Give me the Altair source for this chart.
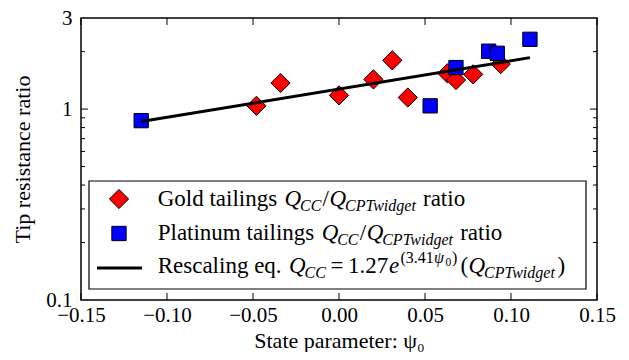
import altair as alt
import pandas as pd

# ---------------- data ----------------
gold_psi = [-0.048, -0.034, 0.000, 0.020, 0.031, 0.040, 0.063, 0.068, 0.078, 0.094]
gold_ratio = [1.04, 1.37, 1.18, 1.43, 1.80, 1.15, 1.54, 1.42, 1.52, 1.72]

plat_psi = [-0.115, 0.053, 0.068, 0.087, 0.092, 0.111]
plat_ratio = [0.87, 1.04, 1.65, 2.01, 1.96, 2.32]

fit_psi = [-0.115, 0.111]
fit_ratio = [0.86, 1.86]

x_ticks = [-0.15, -0.10, -0.05, 0.00, 0.05, 0.10, 0.15]
y_labels = [0.1, 1, 3]
y_major = [1]
y_minor = [0.2, 0.3, 0.4, 0.5, 0.6, 0.7, 0.8, 0.9, 2]

FONT = "Liberation Serif, serif"
W, H = 516, 282

gold = pd.DataFrame({"psi": gold_psi, "ratio": gold_ratio})
plat = pd.DataFrame({"psi": plat_psi, "ratio": plat_ratio})
fit = pd.DataFrame({"psi": fit_psi, "ratio": fit_ratio})

xs = alt.Scale(domain=[-0.15, 0.15], nice=False, zero=False)
ys = alt.Scale(type="log", domain=[0.1, 3], nice=False)

xaxis = alt.Axis(values=x_ticks, format=".2f", ticks=False, tickSize=0, domain=False,
                 grid=False, labelFont=FONT, labelFontSize=21, labelColor="black",
                 labelPadding=15, labelBaseline="middle", labelFlush=False, labelOverlap=False,
                 title="State parameter: ψ₀", titleFont=FONT, titleFontSize=22,
                 titleFontWeight="normal", titleColor="black", titleBaseline="alphabetic",
                 titleY=47, titleX=W / 2)
yaxis = alt.Axis(values=y_labels, format="~g", ticks=False, tickSize=0, domain=False,
                 grid=False, labelFont=FONT, labelFontSize=21, labelColor="black",
                 labelPadding=9, labelFlush=False, labelOverlap=False,
                 title="Tip resistance ratio", titleFont=FONT, titleFontSize=22,
                 titleFontWeight="normal", titleColor="black", titleBaseline="alphabetic",
                 titleX=-52, titleY=H / 2)

X = lambda f: alt.X(f, scale=xs, axis=xaxis)
Y = lambda f: alt.Y(f, scale=ys, axis=yaxis)

gold_layer = alt.Chart(gold).mark_point(shape="diamond", filled=True, fill="#ff0000",
                                         stroke="black", strokeWidth=1, size=370, opacity=1).encode(
    x=X("psi:Q"), y=Y("ratio:Q"))
plat_layer = alt.Chart(plat).mark_point(shape="square", filled=True, fill="#0000ff",
                                         stroke="black", strokeWidth=1, size=205, opacity=1).encode(
    x=X("psi:Q"), y=Y("ratio:Q"))
fit_layer = alt.Chart(fit).mark_line(color="black", strokeWidth=3).encode(
    x=X("psi:Q"), y=Y("ratio:Q"))

# inward tick marks (matplotlib classic style)
xt = pd.DataFrame({"psi": x_ticks})
xt_bottom = alt.Chart(xt).mark_rule(color="black", strokeWidth=1).encode(
    x=X("psi:Q"), y=alt.value(H), y2=alt.value(H - 7))
xt_top = alt.Chart(xt).mark_rule(color="black", strokeWidth=1).encode(
    x=X("psi:Q"), y=alt.value(0), y2=alt.value(7))

ymj = pd.DataFrame({"ratio": y_major})
ymn = pd.DataFrame({"ratio": y_minor})
def ytick(df, x0, x1):
    return alt.Chart(df).mark_rule(color="black", strokeWidth=1).encode(
        y=Y("ratio:Q"), x=alt.value(x0), x2=alt.value(x1))
ytick_layers = [ytick(ymj, 0, 7), ytick(ymj, W, W - 7), ytick(ymn, 0, 4), ytick(ymn, W, W - 4)]

# ---------------- legend (drawn by hand, matplotlib style) ----------------
one = pd.DataFrame({"a": [0]})
legend_box = alt.Chart(one).mark_rect(fill="white", stroke="black", strokeWidth=1.2).encode(
    x=alt.value(8), x2=alt.value(505), y=alt.value(163), y2=alt.value(271))
leg_diamond = alt.Chart(one).mark_point(shape="diamond", filled=True, fill="#ff0000", stroke="black",
                                        strokeWidth=1, size=370, opacity=1).encode(
    x=alt.value(38), y=alt.value(181))
leg_square = alt.Chart(one).mark_point(shape="square", filled=True, fill="#0000ff", stroke="black",
                                       strokeWidth=1, size=205, opacity=1).encode(
    x=alt.value(38), y=alt.value(215.5))
leg_line = alt.Chart(one).mark_rule(color="black", strokeWidth=3).encode(
    x=alt.value(16), x2=alt.value(61), y=alt.value(250))

B = 23      # legend main font size
S = 16      # sub/superscript size
SS = 11.5   # second-level script
r1, r2, r3 = 188.3, 221.5, 254.7
sub = 5
sup = -9.5
d2 = 37.2   # horizontal shift of row-2 maths
# (text, x, baseline y, size, italic)
segments = [
    ("Gold tailings", 76.7, r1, B, False),
    ("Q", 203.5, r1, B, True), ("CC", 219, r1 + sub, S, True),
    ("/", 241.5, r1, B, False),
    ("Q", 248.5, r1, B, True), ("CPTwidget", 264, r1 + sub, S, True),
    ("ratio", 342, r1, B, False),
    ("Platinum tailings", 76.7, r2, B, False),
    ("Q", 203.5 + d2, r2, B, True), ("CC", 219 + d2, r2 + sub, S, True),
    ("/", 241.5 + d2, r2, B, False),
    ("Q", 248.5 + d2, r2, B, True), ("CPTwidget", 264 + d2, r2 + sub, S, True),
    ("ratio", 342 + d2, r2, B, False),
    ("Rescaling eq.", 76.7, r3, B, False),
    ("Q", 208, r3, B, True), ("CC", 223.5, r3 + sub, S, True),
    ("=", 249.5, r3, B, False),
    ("1.27", 267, r3, B, False), ("e", 308, r3, B, True),
    ("(3.41", 319.5, r3 + sup, S, False), ("ψ", 353, r3 + sup, S, True),
    ("0", 364.5, r3 + sup + 3, SS, False), (")", 371, r3 + sup, S, False),
    ("(", 379.5, r3, B, False), ("Q", 387.5, r3, B, True),
    ("CPTwidget", 403, r3 + sub, S, True), (")", 476.5, r3, B, False),
]
seg_layers = []
for txt, sx, sy, fs, it in segments:
    seg_layers.append(
        alt.Chart(one).mark_text(align="left", baseline="alphabetic", font=FONT, fontSize=fs,
                                 fontStyle="italic" if it else "normal", color="black").encode(
            x=alt.value(sx), y=alt.value(sy), text=alt.value(txt)))

chart = alt.layer(
    gold_layer, plat_layer, fit_layer, xt_bottom, xt_top, *ytick_layers,
    legend_box, leg_diamond, leg_square, leg_line, *seg_layers,
).properties(
    width=W, height=H,
    autosize=alt.AutoSizeParams(type="none"),
    padding={"left": 73, "top": 10, "right": 24, "bottom": 52},
    background="white",
).configure_view(stroke="black", strokeWidth=1.5)

chart.save("out.html", embed_options={"renderer": "svg", "actions": False})
